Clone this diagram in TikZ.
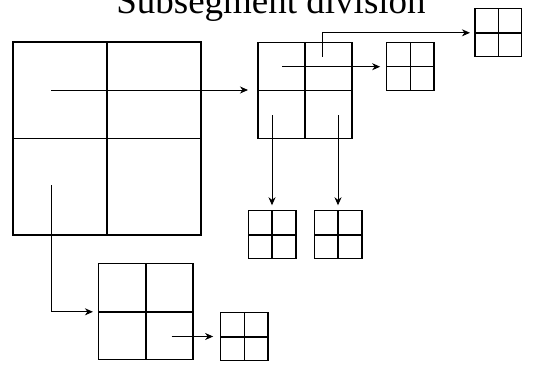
\documentclass[tikz,border=0pt]{standalone}
\usepackage{fontspec}
\setmainfont{Liberation Serif}
\usetikzlibrary{arrows.meta}
\begin{document}
\begin{tikzpicture}[x=1pt,y=-1pt,
  quad/.style={draw, line width=1.2pt, inner sep=0pt, outer sep=0pt,
    minimum width=#1, minimum height=#1},
  cross/.style={line width=1.6pt},
  arr/.style={line width=1pt, -{Stealth[length=8pt,width=7pt,inset=2.5pt]}},
]
\useasboundingbox (0,0) rectangle (534,364);

% title
\node[anchor=base, font=\fontsize{37}{40}\selectfont, inner sep=0pt] (title) at (271,13.5) {Subsegment division};

% segments at three levels of subdivision
\node[quad=190pt, minimum width=188pt, minimum height=193pt] (A) at (107,138.5) {};
\node[quad=96pt, minimum width=94pt] (B) at (305,90.3) {};
\node[quad=96pt, minimum width=94.5pt] (G) at (145.7,311.8) {};
\node[quad=48pt, minimum width=47.3pt] (C) at (410.3,66.3) {};
\node[quad=48pt, minimum width=46.7pt] (D) at (498.3,32.8) {};
\node[quad=48pt, minimum width=47.7pt] (E) at (272.2,234.8) {};
\node[quad=48pt, minimum width=47.7pt] (F) at (338.2,234.8) {};
\node[quad=48pt, minimum width=47.3pt] (H) at (244.3,336.7) {};

% quadrant dividers
\foreach \n in {A,B,G,C,D,E,F,H}
  \draw[cross] (\n.north) -- (\n.south) (\n.west) -- (\n.east);

% starting points of the connectors inside the quadrants
\coordinate (a1) at (51,90);
\coordinate (a2) at (51,185);
\coordinate (b1) at (282,66.7);
\coordinate (b2) at (322.7,56.7);
\coordinate (b3) at (272,115.3);
\coordinate (b4) at (338,115.3);
\coordinate (g1) at (171.7,336.5);

% connectors
\draw[arr, shorten >=10pt] (a1) -- (a1 -| B.west);
\draw[arr, shorten >=6.5pt] (b1) -- (b1 -| C.west);
\draw[arr, shorten >=5pt] (b2) |- (D.west);
\draw[arr, shorten >=5.5pt] (b3) -- (b3 |- E.north);
\draw[arr, shorten >=5.5pt] (b4) -- (b4 |- F.north);
\draw[arr, shorten >=5.5pt] (a2) |- (G.west);
\draw[arr, shorten >=7.5pt] (g1) -- (g1 -| H.west);
\end{tikzpicture}
\end{document}
